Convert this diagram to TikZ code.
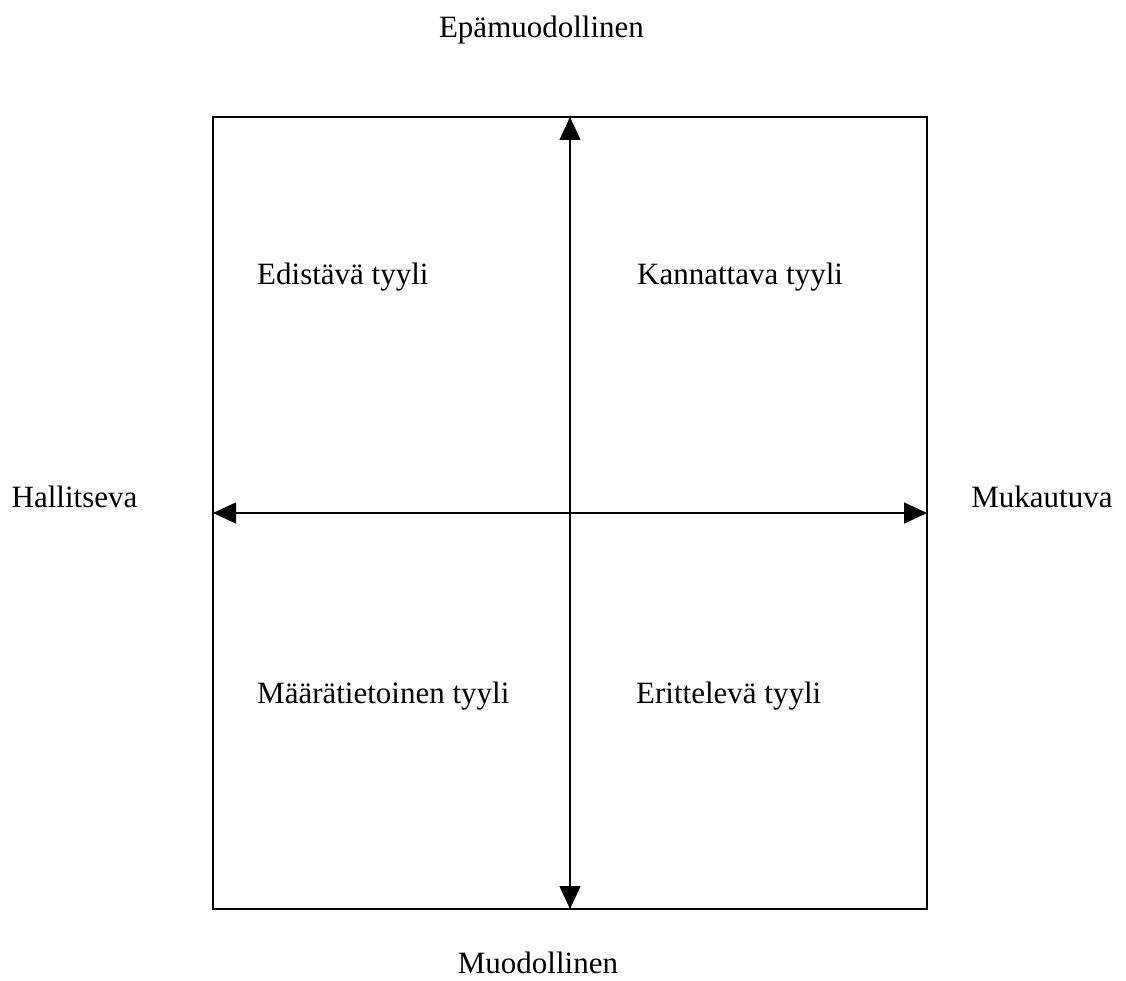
\documentclass[tikz,border=0pt]{standalone}
\usepackage{fontspec}
\setmainfont{Liberation Serif}
\usetikzlibrary{arrows.meta}
\begin{document}
\begin{tikzpicture}[x=1pt,y=-1pt,line join=miter,>={Triangle[length=23pt,width=21pt]}]
			\tikzset{every node/.style={font=\fontsize{31}{37}\selectfont,inner sep=0pt},
				axislabel/.style={anchor=base},
				stylelabel/.style={anchor=base west}}
			\useasboundingbox (0,0) rectangle (1126,981);
			% kehys
			\draw[line width=2pt] (213,117) rectangle (927,909);
			\coordinate (ylos) at (570,117);
			\coordinate (alas) at (570,909);
			\coordinate (vasen) at (213,513);
			\coordinate (oikea) at (927,513);
			% akselit
			\draw[line width=1.5pt,<->] (alas)--(ylos);
			\draw[line width=1.5pt,<->] (vasen)--(oikea);
			% akselien nimet
			\node[axislabel] (epamuod) at (541.5,38) {Epämuodollinen};
			\node[axislabel] (muod) at (538,973) {Muodollinen};
			\node[axislabel] (hall) at (74.5,507) {Hallitseva};
			\node[axislabel] (muk) at (1042,507) {Mukautuva};
			% tyylit
			\node[stylelabel] (edist) at (257,285) {Edistävä tyyli};
			\node[stylelabel] (kann) at (637,285) {Kannattava tyyli};
			\node[stylelabel] (maar) at (257,703) {Määrätietoinen tyyli};
			\node[stylelabel] (erit) at (636,703) {Erittelevä tyyli};
		\end{tikzpicture}
\end{document}
